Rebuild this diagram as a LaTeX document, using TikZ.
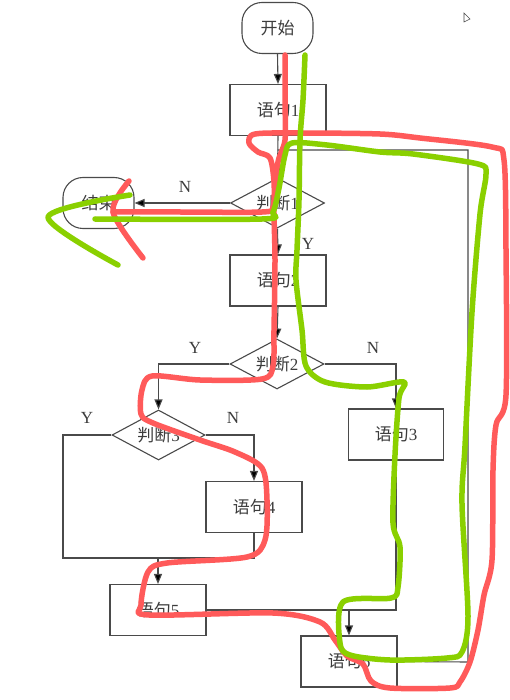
\documentclass[tikz,border=0pt]{standalone}
\usepackage{fontspec}
\setmainfont{Liberation Serif}
\newfontfamily\cjk{Noto Sans CJK SC}
\usetikzlibrary{shapes.geometric,arrows.meta}

\definecolor{lin}{HTML}{4A4A4A}
\definecolor{txt}{HTML}{3C3C3C}
\definecolor{redpen}{HTML}{FF5A5A}
\definecolor{greenpen}{HTML}{8AD000}

\tikzset{
  box/.style={draw=lin, line width=1.1pt, minimum width=96pt, minimum height=51pt,
    inner sep=0pt, text=txt, font=\fontsize{17}{19}\selectfont},
  term/.style={box, rounded corners=20pt, minimum width=71pt, minimum height=51pt},
  decide/.style={draw=lin, line width=1.1pt, diamond, aspect=2, minimum width=94pt,
    minimum height=50pt, inner sep=0pt, text=txt, font=\fontsize{17}{19}\selectfont},
  flow/.style={draw=lin, line width=1.1pt},
  arr/.style={flow, -{Triangle[length=10pt,width=8pt,fill=black]}},
  lab/.style={text=txt, font=\fontsize{17}{19}\selectfont, inner sep=0pt},
  pen/.style={line width=5.5pt, line cap=round, line join=round}
}

\begin{document}
\begin{tikzpicture}[x=1pt,y=-1pt]
\fill[white] (0,0) rectangle (509,700);
\useasboundingbox (0,0) rectangle (509,700);

% nodes
\node[term] (start) at (277.5,28) {\cjk 开始};
\node[box] (s1) at (278,110) {{\cjk 语句}1};
\node[decide] (j1) at (277.5,203) {{\cjk 判断}1};
\node[term] (stop) at (98.5,203) {\cjk 结束};
\node[box] (s2) at (278,280.5) {{\cjk 语句}2};
\node[decide] (j2) at (277,364) {{\cjk 判断}2};
\node[decide, minimum width=93pt] (j3) at (158.5,435) {{\cjk 判断}3};
\node[box, minimum width=95pt] (s3) at (396,434.5) {{\cjk 语句}3};
\node[box] (s4) at (254,507) {{\cjk 语句}4};
\node[box] (s5) at (158,610) {{\cjk 语句}5};
\node[box] (s6) at (349,661.5) {{\cjk 语句}6};

% helper coordinates
\coordinate (jn1) at (277.5,150);
\coordinate (loopTop) at (468,150);
\coordinate (loopBot) at (468,662);
\coordinate (mL) at (63,558);
\coordinate (mR) at (254,558);
\coordinate (mC) at (158,558);
\coordinate (jR) at (396,610);
\coordinate (jC) at (349,610);

% connectors
\draw[arr] (start.south) -- (s1.north);
\draw[arr] (s1.south) -- (j1.north);
\draw[arr] (j1.west) -- (stop.east);
\draw[arr] (j1.south) -- (s2.north);
\draw[arr] (s2.south) -- (j2.north);
\draw[arr] (j2.west) -| (j3.north);
\draw[arr] (j2.east) -| (s3.north);
\draw[arr] (j3.east) -| (s4.north);
\draw[flow] (j3.west) -| (mL) -- (mR) -- (s4.south);
\draw[arr] (mC) -- (s5.north);
\draw[flow] (s5.east) -- (jR) -- (s3.south);
\draw[arr] (jC) -- (s6.north);
\draw[flow] (s6.east) -- (loopBot) -- (loopTop) -- (jn1);

% labels
\node[lab] (lN1) at (185,187) {N};
\node[lab] (lY1) at (308,244) {Y};
\node[lab] (lY2) at (195,348) {Y};
\node[lab] (lN2) at (373,348) {N};
\node[lab] (lY3) at (87,418) {Y};
\node[lab] (lN3) at (233,418) {N};

% small cursor mark
\draw[lin, line width=0.6pt] (464,13) -- (464,22) -- (470,19) -- cycle;

% red pen stroke
\draw[pen, redpen] plot[smooth, tension=0.5] coordinates {
 (285,55) (285,100) (285,140) (278,162) (274,200) (275,260) (274,330) (273,366)
 (262,379) (200,380) (152,376) (142,390) (141,414) (153,423) (200,440) (235,452)
 (262,468) (267,500) (265,540) (247,557) (167,563) (148,572) (141,605) (149,615)
 (273,613) (320,622) (335,640) (347,656) (363,664) (371,681) (390,688) (450,688)
 (460,682) (470,662) (478,630) (484,595) (492,560) (493,470) (496,425) (506,395)
 (506,250) (504,160) (492,147) (420,138) (380,134) (300,133) (255,134) (249,143)
 (258,152) (270,158) (274,182) (273,207) (262,212) (180,212) (113,212)};
\draw[pen, redpen] plot[smooth, tension=0.5] coordinates {(129,181) (113,212) (143,258)};

% green pen stroke
\draw[pen, greenpen] plot[smooth, tension=0.5] coordinates {
 (305,55) (303,100) (300,140) (299,200) (297,250) (296,280) (302,330) (306,366)
 (325,382) (367,387) (404,382) (399,398) (395,455) (393,523) (400,547) (398,587)
 (391,598) (343,602) (340,643) (350,655) (390,660) (447,658) (462,652) (468,616)
 (462,504) (465,446) (472,312) (480,214) (486,174) (478,164) (413,154) (380,152)
 (327,145) (292,143) (285,155) (279,188) (273,212) (262,219) (95,219)};
\draw[pen, greenpen] plot[smooth, tension=0.5] coordinates {(130,195) (48,217) (118,265)};
\end{tikzpicture}
\end{document}
